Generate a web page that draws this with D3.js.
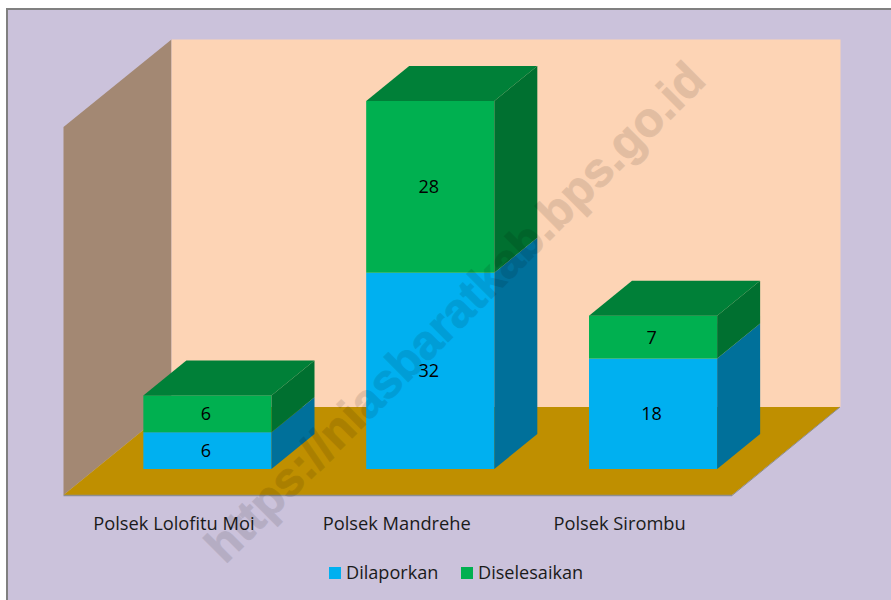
<!DOCTYPE html>
<html><head><meta charset="utf-8">
<script src="https://cdn.jsdelivr.net/npm/d3@7/dist/d3.min.js"></script>
<style>html,body{margin:0;padding:0;background:#fff;overflow:hidden}svg{display:block}</style>
</head><body><svg id="c" width="891" height="600"></svg>
<script>
const categories = ["Polsek Lolofitu Moi", "Polsek Mandrehe", "Polsek Sirombu"];
const dilaporkan = [6, 32, 18];
const diselesaikan = [6, 28, 7];
const seriesNames = ["Dilaporkan", "Diselesaikan"];
const seriesValues = [dilaporkan, diselesaikan];
const faceColors = ["#00B0F0", "#00B050"];
const sideColors = ["#00709A", "#007030"];
const topColors = ["#007FAD", "#008038"];
const watermark = "https://niasbaratkab.bps.go.id";

const svg = d3.select("#c");
const font = "'Open Sans', sans-serif";
const left = 63.5, right = 732, floorY = 495, wallH = 368;
const depthX = 108, depthY = 88;          // depth of the whole 3D box
const barDX = 43, barDY = 35;             // depth of a bar
const barShiftX = 32.5, barShiftY = 26;   // bars sit part-way back on the floor

const x = d3.scaleBand().domain(categories).range([left, right]).paddingInner(0.425).paddingOuter(0.2125);
const y = d3.scaleLinear().domain([0, 60]).range([floorY - barShiftY, floorY - barShiftY - wallH]);
const poly = pts => pts.map(p => p.join(",")).join(" ");

svg.append("rect").attr("x", 0).attr("y", 0).attr("width", 891).attr("height", 600).attr("fill", "#fff");
svg.append("rect").attr("x", 7).attr("y", 9).attr("width", 890).attr("height", 600)
  .attr("fill", "#CBC2DB").attr("stroke", "#808080").attr("stroke-width", 2);

// box
svg.append("polygon").attr("fill", "#A38873").attr("points", poly([
  [left, floorY - wallH], [left + depthX, floorY - wallH - depthY + 0.5], [left + depthX, floorY - depthY], [left, floorY]]));
svg.append("rect").attr("x", left + depthX).attr("y", floorY - wallH - depthY + 0.5)
  .attr("width", right - left + 0.5).attr("height", wallH - 0.5).attr("fill", "#FDD4B5");
svg.append("polygon").attr("fill", "#BF8F00").attr("points", poly([
  [left, floorY], [right, floorY], [right + depthX, floorY - depthY], [left + depthX, floorY - depthY]]));
svg.append("line").attr("x1", left).attr("x2", right).attr("y1", floorY + 0.5).attr("y2", floorY + 0.5)
  .attr("stroke", "#8E8E8E").attr("stroke-width", 1.5);
svg.append("line").attr("x1", right).attr("x2", right + depthX).attr("y1", floorY + 0.5).attr("y2", floorY - depthY)
  .attr("stroke", "#8E8E8E").attr("stroke-width", 1);

// stacked 3D bars
const stacks = categories.map((c, i) => {
  let acc = 0;
  return seriesValues.map((vals, s) => {
    const d = { c, s, v: vals[i], y0: acc, y1: acc + vals[i], last: s === seriesValues.length - 1 };
    acc += vals[i];
    return d;
  });
});
const g = svg.append("g").selectAll("g").data(stacks).join("g");
g.each(function (stack) {
  const sel = d3.select(this);
  stack.forEach(d => {
    const x0 = x(d.c) + barShiftX, x1 = x0 + x.bandwidth();
    const yb = y(d.y0), yt = y(d.y1);
    sel.append("rect").attr("x", x0).attr("y", yt).attr("width", x1 - x0).attr("height", yb - yt).attr("fill", faceColors[d.s]);
    sel.append("polygon").attr("fill", sideColors[d.s]).attr("points", poly([
      [x1, yb], [x1 + barDX, yb - barDY], [x1 + barDX, yt - barDY], [x1, yt]]));
    if (d.last) sel.append("polygon").attr("fill", topColors[d.s]).attr("points", poly([
      [x0, yt], [x0 + barDX, yt - barDY], [x1 + barDX, yt - barDY], [x1, yt]]));
    sel.append("text").attr("x", (x0 + x1) / 2 - 1.5).attr("y", (yb + yt) / 2)
      .attr("dy", "0.36em").attr("text-anchor", "middle").attr("font-family", font)
      .attr("font-size", 18).attr("fill", "#000").text(d.v);
  });
});

// category labels
svg.append("g").selectAll("text").data(categories).join("text")
  .attr("x", d => x(d) + x.bandwidth() / 2 - 1).attr("y", 530).attr("text-anchor", "middle")
  .attr("font-family", font).attr("font-size", 18.3).attr("fill", "#1a1a1a").text(d => d);

// legend
const legendX = [329, 461];
const lg = svg.append("g").selectAll("g").data(seriesNames).join("g")
  .attr("transform", (d, i) => `translate(${legendX[i]},567)`);
lg.append("rect").attr("width", 12).attr("height", 12).attr("fill", (d, i) => faceColors[i]);
lg.append("text").attr("x", 17).attr("y", 12).attr("font-family", font).attr("font-size", 18.1)
  .attr("fill", "#1a1a1a").text(d => d);

// watermark
svg.append("text").attr("transform", "translate(225,565) rotate(-45)")
  .attr("font-family", "'Liberation Sans', Arial, sans-serif").attr("font-weight", "bold")
  .attr("font-size", 48).attr("fill", "#000").attr("stroke", "#000").attr("stroke-width", 1)
  .attr("opacity", 0.1).text(watermark);
</script></body></html>
